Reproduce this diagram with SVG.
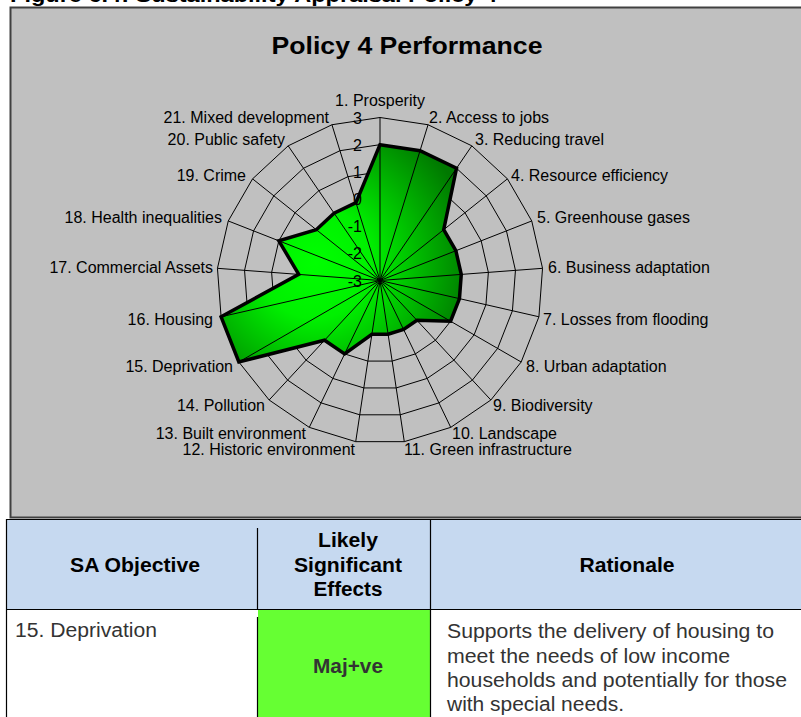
<svg xmlns="http://www.w3.org/2000/svg" xmlns:xlink="http://www.w3.org/1999/xlink" width="801" height="717" viewBox="0 0 801 717">
<style>
.lbl{font-family:"Liberation Sans",Arial,sans-serif;font-size:16px;fill:#000}
.tick{font-family:"Liberation Sans",Arial,sans-serif;font-size:16px;fill:#000;text-anchor:end}
.hd{font-family:"Liberation Sans",Arial,sans-serif;font-size:20px;font-weight:bold;fill:#000;text-anchor:middle}
.bd{font-family:"Liberation Sans",Arial,sans-serif;font-size:20px;fill:#333}
.grid{fill:none;stroke:#000;stroke-width:1}
.tl{stroke:#000;stroke-width:1.2;fill:none}
</style>
<defs>
<polygon id="ring" class="grid" vector-effect="non-scaling-stroke" points="0,-163 48.05,-155.76 91.82,-134.67 127.43,-101.63 151.74,-59.54 162.54,-12.18 158.91,36.27 141.16,81.5 110.87,119.5 70.73,146.86 24.29,161.17 -24.29,161.17 -70.73,146.86 -110.87,119.5 -141.16,81.5 -158.91,36.27 -162.54,-12.18 -151.74,-59.54 -127.43,-101.63 -91.82,-134.67 -48.05,-155.76"/>
<radialGradient id="gfill" gradientUnits="userSpaceOnUse" cx="-65" cy="-18" r="160">
<stop offset="0" stop-color="#00ff00"/>
<stop offset="0.35" stop-color="#00f000"/>
<stop offset="1" stop-color="#007800"/>
</radialGradient>
</defs>
<rect width="801" height="717" fill="#ffffff"/>
<text x="10" y="2" font-family="'Liberation Sans',Arial,sans-serif" font-size="21" font-weight="bold" textLength="487" lengthAdjust="spacingAndGlyphs">Figure 6.4: Sustainability Appraisal Policy 4</text>
<g id="chart">
<rect x="10.5" y="7.5" width="800" height="510" fill="#c0c0c0" stroke="#404040" stroke-width="2"/>
<text x="407" y="54" font-family="'Liberation Sans',Arial,sans-serif" font-size="24" font-weight="bold" text-anchor="middle" textLength="271" lengthAdjust="spacingAndGlyphs">Policy 4 Performance</text>
<g id="rings" transform="translate(380 280.5)">
<use xlink:href="#ring" href="#ring" transform="scale(1)"/>
<use xlink:href="#ring" href="#ring" transform="scale(0.833333)"/>
<use xlink:href="#ring" href="#ring" transform="scale(0.666667)"/>
<use xlink:href="#ring" href="#ring" transform="scale(0.5)"/>
<use xlink:href="#ring" href="#ring" transform="scale(0.333333)"/>
<use xlink:href="#ring" href="#ring" transform="scale(0.166667)"/>
</g>
<g id="series" transform="translate(380 280.5)">
<polygon points="0,-135.83 40.04,-129.8 76.52,-112.23 63.72,-50.82 75.87,-29.77 81.27,-6.09 79.46,18.14 70.58,40.75 36.96,39.83 23.58,48.95 8.1,53.72 -8.1,53.72 -35.37,73.43 -55.44,59.75 -141.16,81.5 -158.91,36.27 -81.27,-6.09 -101.16,-39.69 -63.72,-50.82 -45.91,-67.34 -24.03,-77.88" fill="url(#gfill)" stroke="#000" stroke-width="3.5" stroke-linejoin="miter"/>
</g>
<g id="spokes" transform="translate(380 280.5)" class="grid">
<path d="M0 0L0,-163M0 0L48.05,-155.76M0 0L91.82,-134.67M0 0L127.43,-101.63M0 0L151.74,-59.54M0 0L162.54,-12.18M0 0L158.91,36.27M0 0L141.16,81.5M0 0L110.87,119.5M0 0L70.73,146.86M0 0L24.29,161.17M0 0L-24.29,161.17M0 0L-70.73,146.86M0 0L-110.87,119.5M0 0L-141.16,81.5M0 0L-158.91,36.27M0 0L-162.54,-12.18M0 0L-151.74,-59.54M0 0L-127.43,-101.63M0 0L-91.82,-134.67M0 0L-48.05,-155.76"/>
</g>
<g id="ticks">
<text class="tick" x="362" y="123.5">3</text>
<text class="tick" x="362" y="150.7">2</text>
<text class="tick" x="362" y="177.8">1</text>
<text class="tick" x="362" y="205">0</text>
<text class="tick" x="362" y="232.2">-1</text>
<text class="tick" x="362" y="259.3">-2</text>
<text class="tick" x="362" y="286.5">-3</text>
</g>
<g id="labels">
<text class="lbl" x="380" y="106" text-anchor="middle">1. Prosperity</text>
<text class="lbl" x="429" y="123">2. Access to jobs</text>
<text class="lbl" x="475" y="145">3. Reducing travel</text>
<text class="lbl" x="511" y="181">4. Resource efficiency</text>
<text class="lbl" x="537" y="223">5. Greenhouse gases</text>
<text class="lbl" x="548" y="273">6. Business adaptation</text>
<text class="lbl" x="543" y="325">7. Losses from flooding</text>
<text class="lbl" x="526" y="372">8. Urban adaptation</text>
<text class="lbl" x="493" y="411">9. Biodiversity</text>
<text class="lbl" x="452" y="439">10. Landscape</text>
<text class="lbl" x="404" y="455">11. Green infrastructure</text>
<text class="lbl" x="355" y="455" text-anchor="end">12. Historic environment</text>
<text class="lbl" x="306" y="439" text-anchor="end">13. Built environment</text>
<text class="lbl" x="265" y="411" text-anchor="end">14. Pollution</text>
<text class="lbl" x="233" y="372" text-anchor="end">15. Deprivation</text>
<text class="lbl" x="213" y="325" text-anchor="end">16. Housing</text>
<text class="lbl" x="213" y="273" text-anchor="end">17. Commercial Assets</text>
<text class="lbl" x="222" y="223" text-anchor="end">18. Health inequalities</text>
<text class="lbl" x="246" y="181" text-anchor="end">19. Crime</text>
<text class="lbl" x="285" y="145" text-anchor="end">20. Public safety</text>
<text class="lbl" x="329" y="123" text-anchor="end">21. Mixed development</text>
</g>
</g>
<g id="table">
<rect x="6" y="519" width="800" height="90" fill="#c6d9f0"/>
<rect x="6" y="609" width="800" height="110" fill="#ffffff"/>
<rect x="258" y="610" width="172.5" height="110" fill="#66ff33"/>
<path class="tl" d="M6 519.5H801M6.5 519V717M6 609.5H801M257.5 528V609M257.5 617V717M430.5 519V717"/>
<text class="hd" x="135" y="572" textLength="130" lengthAdjust="spacingAndGlyphs">SA Objective</text>
<text class="hd" x="348" y="547" textLength="60" lengthAdjust="spacingAndGlyphs">Likely</text>
<text class="hd" x="348" y="572" textLength="108" lengthAdjust="spacingAndGlyphs">Significant</text>
<text class="hd" x="348" y="596" textLength="69" lengthAdjust="spacingAndGlyphs">Effects</text>
<text class="hd" x="627" y="572" textLength="95" lengthAdjust="spacingAndGlyphs">Rationale</text>
<text class="bd" x="15" y="637" textLength="142" lengthAdjust="spacingAndGlyphs">15. Deprivation</text>
<text class="hd" x="348" y="673" style="fill:#333" textLength="70" lengthAdjust="spacingAndGlyphs">Maj+ve</text>
<text class="bd" x="447" y="638" textLength="327" lengthAdjust="spacingAndGlyphs">Supports the delivery of housing to</text>
<text class="bd" x="447" y="663" textLength="283" lengthAdjust="spacingAndGlyphs">meet the needs of low income</text>
<text class="bd" x="447" y="687" textLength="340" lengthAdjust="spacingAndGlyphs">households and potentially for those</text>
<text class="bd" x="447" y="711" textLength="177" lengthAdjust="spacingAndGlyphs">with special needs.</text>
</g>
</svg>
